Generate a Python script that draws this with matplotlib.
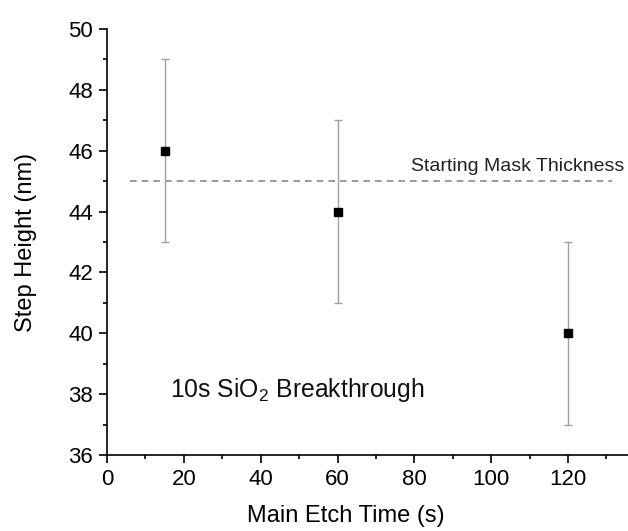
import matplotlib
matplotlib.use("Agg")
import matplotlib.pyplot as plt
from matplotlib.ticker import MultipleLocator

# data
etch_time = [15, 60, 120]
step_height = [46, 44, 40]
step_err = [3, 3, 3]
mask_thickness = 45
mask_span = [6, 131.5]

plt.rcParams["font.family"] = ["Liberation Sans", "DejaVu Sans"]

fig = plt.figure(figsize=(6.28, 5.31), dpi=100)
ax = fig.add_axes([107 / 628, 1 - 455 / 531, 1 - 107 / 628, (455 - 29) / 531])

ax.hlines(mask_thickness, mask_span[0], mask_span[1], colors="#8a8a8a",
          linestyles=(0, (4, 3)), linewidth=1.2)
ax.errorbar(etch_time, step_height, yerr=step_err, fmt="s", color="black",
            markersize=6, ecolor="#a0a0a0", elinewidth=1.0, capsize=3.2,
            capthick=1.0)

ax.text(79, 45.33, "Starting Mask Thickness", fontsize=14, color="#222222",
        ha="left", va="baseline")
ax.text(16.4, 37.9, r"10s SiO$_\mathregular{2}$ Breakthrough", fontsize=17.8,
        color="#111111", ha="left", va="baseline")

ax.set_xlim(0, 135.6)
ax.set_ylim(36, 50)
ax.xaxis.set_major_locator(MultipleLocator(20))
ax.xaxis.set_minor_locator(MultipleLocator(10))
ax.yaxis.set_major_locator(MultipleLocator(2))
ax.yaxis.set_minor_locator(MultipleLocator(1))

for side in ("top", "right"):
    ax.spines[side].set_visible(False)
for side in ("left", "bottom"):
    ax.spines[side].set_linewidth(1.2)

ax.tick_params(which="major", direction="out", length=6, width=1.2,
               labelsize=16, pad=4)
ax.tick_params(which="minor", direction="out", length=3, width=1.2)

ax.set_xlabel("Main Etch Time (s)", fontsize=17)
ax.set_ylabel("Step Height (nm)", fontsize=17)
ax.xaxis.set_label_coords((346 - 107) / (628 - 107), -0.117)
ax.yaxis.set_label_coords(-0.134, 0.5)

fig.savefig("out.png", dpi=100)
